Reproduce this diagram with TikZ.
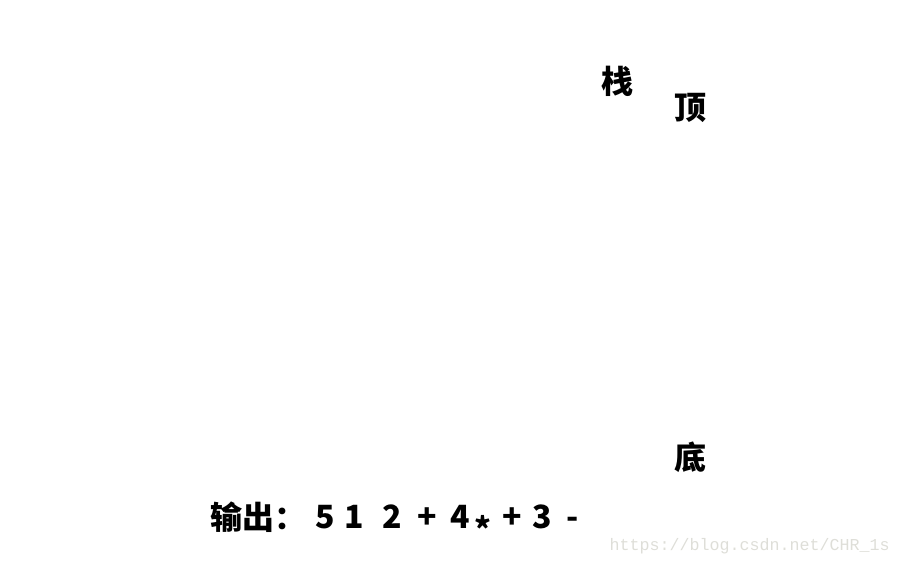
\documentclass[tikz,border=0pt]{standalone}
\usepackage{fontspec}
\usepackage{xcolor}
\usepackage{tikz}
\newfontfamily\cjk{Noto Sans CJK SC}
\newfontfamily\urlfont{Liberation Mono}
\definecolor{markgray}{RGB}{222,222,216}
\usetikzlibrary{positioning}

\begin{document}
\begin{tikzpicture}[x=0.75pt,y=-0.75pt, inner sep=0pt,
    word/.style={font=\cjk\bfseries\fontsize{24}{24}\selectfont}]
    \useasboundingbox (0,0) rectangle (901,568);

    \node[word] (zhan) at (617, 81) {栈};
    \node[word] (ding) at (690, 108) {顶};
    \node[word] (di) at (690, 457) {底};

    \node[word, anchor=west] (out) at (210, 517) {输出：};
    \foreach \t/\x/\s [count=\i] in {5/325/0, 1/354/0, 2/392/0, +/427/0, 4/460/0, */483/-10, +/512/0, 3/542/0, -/573/0}
        \node[word, anchor=base, yshift=\s pt] (tok\i) at (\x, 528) {\t};

    \node[font=\urlfont\fontsize{12.5}{12.5}\selectfont, text=markgray, anchor=east] (mark) at (890, 546) {https://blog.csdn.net/CHR\_1s};
\end{tikzpicture}
\end{document}
